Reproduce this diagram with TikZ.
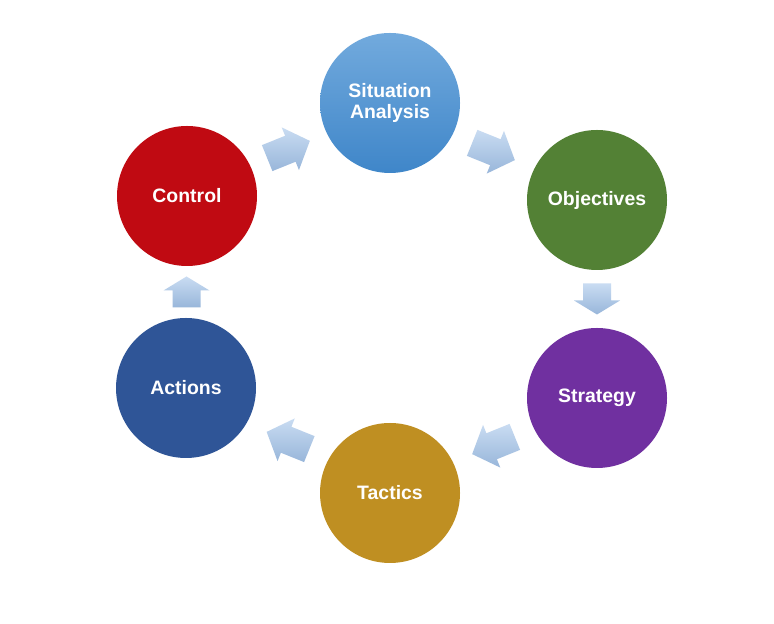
\documentclass[tikz,border=0pt]{standalone}
\usepackage{fontspec}
\setmainfont{Liberation Sans}
\usetikzlibrary{calc}
\definecolor{sablueT}{HTML}{72AADD}
\definecolor{sablueB}{HTML}{3F86C9}
\definecolor{obgreen}{HTML}{538135}
\definecolor{stpurple}{HTML}{7030A0}
\definecolor{tagold}{HTML}{BF8F22}
\definecolor{acblue}{HTML}{2F5597}
\definecolor{cored}{HTML}{C00A12}
\definecolor{arrT}{HTML}{C9DCF2}
\definecolor{arrB}{HTML}{98B6DA}
\tikzset{
  stage/.style={circle, minimum size=140bp, inner sep=0pt, text=white,
    font=\fontsize{19.5}{22}\selectfont\bfseries, align=center},
  flowfill/.style={top color=arrT, bottom color=arrB, draw=none}
}
% block arrow halfway between named nodes #1 -> #2, at angle #3;
% tail at -#4, head base at #5, tip at #6 (along the arrow), shaft 28, head 46 wide
\newcommand{\flowarrow}[6]{%
  \coordinate (m#1#2) at ($(#1)!0.5!(#2)$);
  \shade[flowfill]
    ($(m#1#2)+(#3:-#4)+({#3+90}:-14)$) -- ($(m#1#2)+(#3:#5)+({#3+90}:-14)$)
    -- ($(m#1#2)+(#3:#5)+({#3+90}:-23)$) -- ($(m#1#2)+(#3:#6)$)
    -- ($(m#1#2)+(#3:#5)+({#3+90}:23)$) -- ($(m#1#2)+(#3:#5)+({#3+90}:14)$)
    -- ($(m#1#2)+(#3:-#4)+({#3+90}:14)$) -- cycle;}
\begin{document}
\begin{tikzpicture}[x=1bp,y=1bp]
\useasboundingbox[fill=white] (0,0) rectangle (774,624);
\node[stage, top color=sablueT, bottom color=sablueB] (sa) at (390,521) {Situation\\Analysis};
\node[stage, fill=obgreen] (ob) at (597,424) {Objectives};
\node[stage, fill=stpurple] (st) at (597,226) {Strategy};
\node[stage, fill=tagold] (ta) at (390,131) {Tactics};
\node[stage, fill=acblue] (ac) at (186,236) {Actions};
\node[stage, fill=cored] (co) at (187,428) {Control};
\flowarrow{sa}{ob}{-22}{23}{2}{23}
\flowarrow{ob}{st}{-90}{15.5}{1.5}{15.5}
\flowarrow{st}{ta}{-158}{23}{2}{23}
\flowarrow{ta}{ac}{158}{23}{2}{23}
\flowarrow{ac}{co}{90}{15.5}{1.5}{15.5}
\flowarrow{co}{sa}{22}{23}{2}{23}
\end{tikzpicture}
\end{document}
